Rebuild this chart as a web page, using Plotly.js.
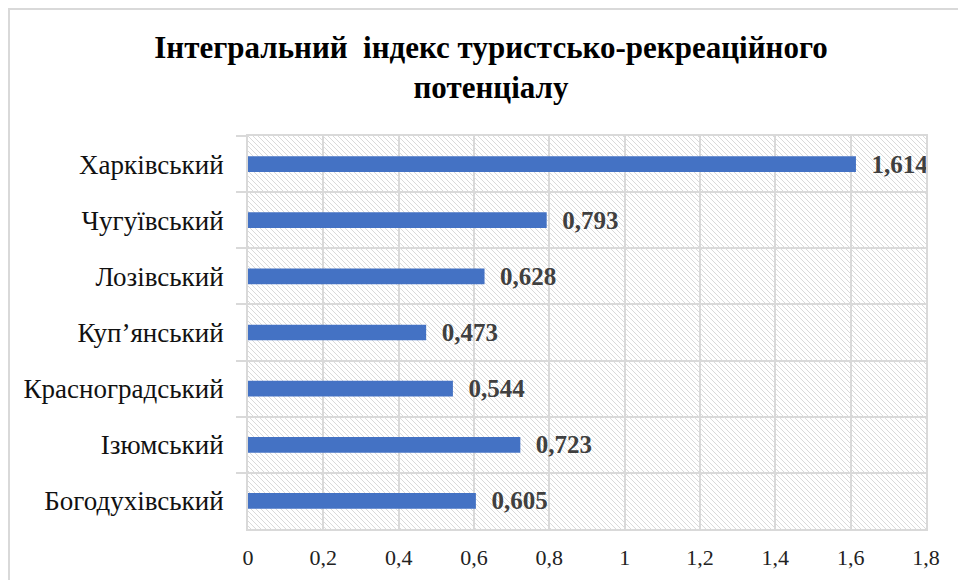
<!DOCTYPE html>
<html>
<head>
<meta charset="utf-8">
<script src="https://cdn.plot.ly/plotly-3.0.1.min.js"></script>
<style>
  html, body { margin: 0; padding: 0; background: #fff; overflow: hidden; }
  #frame { position: absolute; left: 8px; top: 8px; width: 2000px; height: 2000px;
           border: 2px solid #d9d9d9; box-sizing: border-box; }
  #hatch { position: absolute; left: 248px; top: 136px; width: 678px; height: 393px;
           background-image: url("data:image/svg+xml;utf8,<svg xmlns='http://www.w3.org/2000/svg' width='5' height='5'><path d='M0,0 L5,5 M-1,4 L1,6 M4,-1 L6,1' stroke='%23dadada' stroke-width='1'/></svg>");
           background-repeat: repeat; }
  #chart { position: absolute; left: 0; top: 0; width: 958px; height: 580px; }
</style>
</head>
<body>
<div id="frame"></div>
<div id="hatch"></div>
<div id="chart"></div>
<script>
const categories = ["Харківський", "Чугуївський", "Лозівський", "Куп’янський", "Красноградський", "Ізюмський", "Богодухівський"];
const values = [1.614, 0.793, 0.628, 0.473, 0.544, 0.723, 0.605];
const xTickValues = [0, 0.2, 0.4, 0.6, 0.8, 1, 1.2, 1.4, 1.6, 1.8];
const chartTitle = "Інтегральний\u00a0 індекс туристсько-рекреаційного<br>потенціалу";

const serif = "'Liberation Serif', 'Times New Roman', serif";

const trace = {
  type: "bar",
  orientation: "h",
  x: values,
  y: categories,
  width: 0.28,
  marker: { color: "#4472C4" },
  texttemplate: "\u2002%{x:.3f}",
  textposition: "outside",
  constraintext: "none",
  cliponaxis: false,
  textfont: { family: serif, size: 25, color: "#404040", weight: "bold" },
  hoverinfo: "skip"
};

const layout = {
  width: 958,
  height: 580,
  separators: ", ",
  paper_bgcolor: "rgba(0,0,0,0)",
  plot_bgcolor: "rgba(0,0,0,0)",
  margin: { l: 248, r: 32, t: 136, b: 51 },
  showlegend: false,
  title: {
    text: chartTitle,
    font: { family: serif, size: 31, color: "#000", weight: "bold" },
    x: 0.5125, xanchor: "center", xref: "container",
    y: 0.9, yanchor: "top", yref: "container"
  },
  xaxis: {
    range: [0, 1.8],
    tickvals: xTickValues,
    showgrid: true,
    gridcolor: "#d9d9d9",
    gridwidth: 2,
    zeroline: false,
    showline: true,
    mirror: true,
    linecolor: "#d9d9d9",
    linewidth: 2,
    ticks: "",
    ticklabelstandoff: 8,
    tickfont: { family: serif, size: 22, color: "#222" },
    fixedrange: true
  },
  yaxis: {
    type: "category",
    autorange: "reversed",
    tickson: "boundaries",
    ticks: "outside",
    ticklen: 10,
    tickwidth: 2,
    tickcolor: "#d9d9d9",
    showgrid: true,
    gridcolor: "#d9d9d9",
    gridwidth: 2,
    showline: true,
    mirror: true,
    linecolor: "#d9d9d9",
    linewidth: 2,
    ticklabelstandoff: 17,
    tickfont: { family: serif, size: 27, color: "#111" },
    fixedrange: true
  }
};

Plotly.newPlot("chart", [trace], layout, { displayModeBar: false, staticPlot: true });
</script>
</body>
</html>
